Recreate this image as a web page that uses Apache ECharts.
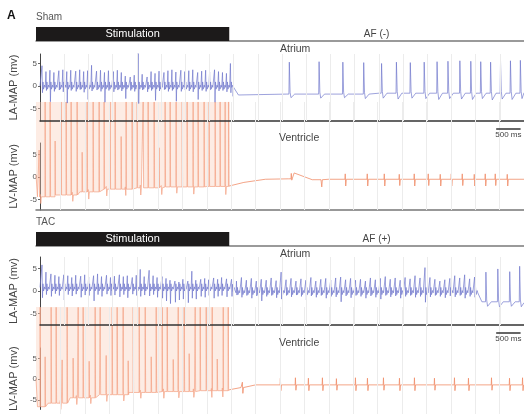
<!DOCTYPE html>
<html>
<head>
<meta charset="utf-8">
<style>
  html, body { margin: 0; padding: 0; background: #fff; }
  #main { width: 524px; height: 414px; }
</style>
<script src="https://cdn.jsdelivr.net/npm/echarts@6/dist/echarts.min.js"></script>
</head>
<body>
<div id="main"></div>
<script>
// time axis in ms, voltages in mV
var stimEnd = 3960;
var scaleBarMs = 500;
var yTicks = [-5, 0, 5];
var gridMs = [500,1000,1500,2000,2500,3000,3500,4000,4500,5000,5500,6000,6500,7000,7500,8000,8500,9000,9500];

// ---- Sham, atrium ----
var shamLaStimT = [41,123,205,287,389,471,553,635,738,820,902,984,1065,1168,1250,1332,1414,1516,1598,1680,1762,1865,1947,2029,2111,2213,2295,2377,2459,2561,2643,2725,2807,2910,2992,3074,3156,3258,3340,3422,3504,3606,3688,3770,3852,3934];
var shamLaStimHi = [4.5,3.2,3.5,3.0,3.4,3.6,3.2,3.5,3.3,3.6,3.2,3.4,4.6,3.3,3.5,3.0,3.4,3.2,3.5,3.0,2.2,2.0,2.4,7.3,2.6,2.0,3.2,2.8,3.3,3.0,3.4,3.6,3.1,3.5,3.2,3.4,3.6,3.0,3.3,3.5,3.1,3.6,3.2,3.0,2.8,5.0];
var shamLaStimLo = [-1.5,-1.0,-3.5,-1.2,-0.9,-1.3,-3.8,-1.0,-1.2,-0.8,-1.4,-3.0,-1.1,-0.9,-1.2,-3.6,-1.0,-1.3,-0.9,-1.1,-2.8,-1.0,-1.2,-3.9,-0.9,-1.3,-1.0,-3.2,-1.1,-0.8,-1.2,-1.0,-3.4,-1.2,-0.9,-1.1,-1.3,-3.0,-1.0,-1.2,-0.9,-3.6,-1.1,-1.0,-1.3,-1.5];
var shamLaAfT = [5143,5758,6249,6680,7049,7356,7643,7930,8196,8421,8667,8893,9098,9302,9507,9712,9917];
var shamLaAfHi = [5.3,5.4,5.3,5.2,5.0,5.3,5.2,5.3,5.4,5.5,5.6,5.5,5.4,5.3,5.5,5.6,5.7];
var shamLaAfLo = [-2.6,-2.7,-2.6,-2.8,-2.7,-2.9,-2.7,-2.8,-3.0,-2.8,-2.9,-3.0,-2.8,-3.1,-2.9,-3.0,-2.8];
var shamLaBase = [[0,0.0],[30,-0.3],[3960,-0.3],[3990,-2.3],[4100,-2.0],[5100,-1.8],[7000,-1.6],[10000,-1.5]];

// ---- Sham, ventricle ----
var shamLvStimT = [61,184,287,389,512,615,717,840,943,1045,1168,1291,1393,1516,1619,1742,1844,1967,2070,2193,2295,2418,2520,2643,2746,2869,2992,3094,3217,3319,3442,3545,3668,3770,3873,3945];
var shamLvStimH = [6.0,16.7,16.7,8.0,16.7,16.7,16.7,16.7,5.5,16.7,16.7,16.7,16.7,16.7,16.7,9.0,16.7,16.7,16.7,16.7,16.7,16.7,6.5,16.7,16.7,16.7,16.7,16.7,16.7,16.7,16.7,16.7,16.7,16.7,16.7,16.7];
var shamLvBeatT = [82,738,1065,1434,1824,2131,2561,2869,3217,3873,5225,5840,6331,6782,7131,7438,7745,8032,8278,8504,8729,8975,9200,9405,9651];
var shamLvBeatUp = [0.5,0.6,0.5,0.6,0.5,0.6,0.5,0.6,0.5,0.6,1.2,0.2,1.2,1.2,1.2,1.1,1.2,1.2,1.1,1.2,1.2,1.1,1.2,1.2,1.1];
var shamLvBeatDown = [1.5,1.4,1.6,1.5,1.4,1.6,1.5,1.4,1.6,1.8,0.3,1.6,1.5,1.5,1.5,1.4,1.5,1.4,1.5,1.5,1.4,1.5,1.5,1.4,1.5];
var shamLvBase = [[0,0.5],[30,-4.4],[400,-4.0],[900,-3.3],[1300,-2.7],[2000,-2.4],[2600,-2.2],[3500,-2.1],[3960,-2.0],[4260,-1.2],[4700,-0.5],[5180,-0.4],[5290,0.9],[5660,-0.6],[6000,-0.5],[10000,-0.5]];

// ---- TAC, atrium ----
var tacLaT = [41,123,226,308,390,492,574,656,738,841,923,1005,1107,1189,1271,1374,1456,1538,1640,1722,1804,1907,1989,2071,2153,2255,2337,2419,2522,2604,2686,2788,2870,2952,3055,3137,3219,3321,3403,3485,3588,3670,3752,3854,
  3957,4059,4162,4264,4367,4469,4572,4674,4777,4879,4982,5084,5187,5289,5392,5494,5597,5699,5802,5904,6007,6109,6212,6314,6417,6519,6622,6724,6827,6929,7032,7134,7237,7339,7442,7544,7647,7749,7852,7954,8057,8159,8262,8364,8467,8569,8672,8774,8877,8979];
var tacLaHi = [5.8,4.2,3.8,3.5,3.2,3.6,3.4,3.0,3.5,3.3,3.6,3.1,3.4,3.8,3.2,3.5,3.0,3.3,3.6,3.2,3.4,3.0,3.5,4.8,3.2,4.6,3.4,3.0,3.2,2.8,2.4,2.2,2.0,2.6,2.2,4.4,2.4,2.6,2.8,2.5,2.9,2.6,3.0,2.7,
  2.6,2.2,3.0,2.4,2.8,2.2,2.6,2.4,2.9,2.3,4.2,2.5,2.8,2.2,2.7,2.4,3.0,2.2,2.6,2.8,2.4,2.9,3.1,2.5,2.8,2.4,2.6,2.2,2.9,2.5,2.8,3.2,2.6,2.9,2.4,3.0,2.7,3.4,2.9,5.2,3.0,2.6,2.2,2.5,2.8,3.4,2.9,3.6,2.7,3.1];
var tacLaLo = [-1.5,-0.8,-1.2,-0.6,-1.0,-2.0,-0.8,-1.1,-0.7,-1.4,-0.9,-1.0,-2.2,-0.8,-1.2,-0.7,-1.0,-0.9,-1.3,-0.8,-1.5,-0.7,-1.0,-1.2,-0.9,-1.1,-0.8,-1.4,-1.6,-2.2,-2.8,-2.5,-2.0,-1.8,-2.6,-1.6,-1.8,-1.2,-1.4,-1.0,-1.6,-1.2,-1.0,-1.3,
  -1.2,-0.9,-1.4,-1.0,-1.6,-1.1,-2.2,-1.2,-1.0,-1.5,-1.8,-1.0,-1.3,-0.9,-1.2,-2.0,-1.1,-1.4,-1.0,-1.6,-1.2,-1.3,-2.4,-1.1,-1.5,-1.0,-1.2,-1.6,-1.1,-1.4,-1.8,-1.0,-1.3,-1.1,-1.6,-1.2,-1.0,-1.4,-1.2,-2.5,-1.3,-1.0,-1.2,-1.5,-1.1,-1.3,-1.0,-1.6,-1.2,-1.4];
var tacLaEndT = [9205,9451,9697,9902];
var tacLaEndHi = [4.2,4.9,4.3,5.5];
var tacLaEndLo = [-3.4,-3.5,-3.4,-3.5];
var tacLaBase = [[0,0.8],[30,0.4],[3950,0.3],[4050,-0.4],[9060,-0.5],[9130,-2.4],[10000,-2.6]];

// ---- TAC, ventricle ----
var tacLvStimT = [82,184,307,410,533,635,758,861,963,1086,1209,1312,1435,1558,1660,1783,1886,1988,2112,2235,2358,2460,2583,2686,2809,2911,3034,3136,3259,3362,3485,3608,3711,3834,3936];
var tacLvStimH = [16.6,5.5,16.6,16.6,4.8,16.6,5.2,16.6,16.6,4.5,16.6,16.6,5.8,16.6,16.6,16.6,4.6,16.6,16.6,16.6,5.5,16.6,16.6,16.6,4.9,16.6,16.6,6.2,16.6,16.6,16.6,16.6,5.0,16.6,16.6];
var tacLvBeatT = [492,820,1107,1435,1783,2132,2604,2911,3219,3588,3813,4223,5002,5310,5576,5863,6150,6540,6786,7114,7442,7749,8159,8569,8856,9328,9697,9964];
var tacLvBeatUp = [0.6,0.5,0.6,0.5,0.6,0.5,0.6,0.5,0.6,0.5,0.6,1.2,1.5,1.6,1.5,1.6,1.4,1.6,1.5,1.6,1.5,1.6,1.5,1.6,1.5,1.6,1.5,1.6];
var tacLvBeatDown = [1.4,1.5,1.3,1.5,1.4,1.3,1.5,1.4,1.3,1.5,1.4,1.3,1.3,1.2,1.3,1.3,1.2,1.3,1.3,1.2,1.3,1.3,1.2,1.3,1.3,1.2,1.3,1.3];
var tacLvBase = [[0,0.6],[30,-5.7],[250,-4.9],[700,-3.7],[1300,-3.0],[1900,-2.5],[2500,-2.3],[3300,-2.1],[3960,-1.9],[4200,-1.4],[4500,-0.8],[10000,-0.8]];

// spike shapes (offsets in ms)
function fastSpike(hi, lo) {
  return function (t, b, i) {
    return [[t - 8, b], [t, hi[i]], [t + 10, lo[i]], [t + 20, b + 1.2], [t + 32, b - 0.4], [t + 52, b + 0.5], [t + 66, b]];
  };
}
function slowSpike(hi, lo) {
  return function (t, b, i) { return [[t, b], [t + 8, hi[i]], [t + 24, b + 0.4], [t + 42, lo[i]], [t + 120, b]]; };
}
function stimSpike(h) {
  return function (t, b, i) { return [[t, b], [t + 3, h[i]], [t + 12, b]]; };
}
function beatSpike(up, down) {
  return function (t, b, i) { return [[t, b], [t + 6, b + up[i]], [t + 16, b - down[i]], [t + 28, b]]; };
}

// baseline level of the last read point at or before t
function baseAt(base, t) {
  var v = base[0][1];
  for (var i = 0; i < base.length; i++) if (base[i][0] <= t) v = base[i][1];
  return v;
}

function trace(base, groups) {
  var pts = base.map(function (p) { return [p[0], p[1]]; });
  groups.forEach(function (g) {
    g.t.forEach(function (t, i) {
      g.shape(t, baseAt(base, t), i).forEach(function (p) { pts.push(p); });
    });
  });
  pts.sort(function (a, b) { return a[0] - b[0]; });
  return pts;
}

var shamLa = trace(shamLaBase, [
  { t: shamLaStimT, shape: fastSpike(shamLaStimHi, shamLaStimLo) },
  { t: shamLaAfT, shape: slowSpike(shamLaAfHi, shamLaAfLo) }
]);
var shamLv = trace(shamLvBase, [
  { t: shamLvStimT, shape: stimSpike(shamLvStimH) },
  { t: shamLvBeatT, shape: beatSpike(shamLvBeatUp, shamLvBeatDown) }
]);
var tacLa = trace(tacLaBase, [
  { t: tacLaT, shape: fastSpike(tacLaHi, tacLaLo) },
  { t: tacLaEndT, shape: slowSpike(tacLaEndHi, tacLaEndLo) }
]);
var tacLv = trace(tacLvBase, [
  { t: tacLvStimT, shape: stimSpike(tacLvStimH) },
  { t: tacLvBeatT, shape: beatSpike(tacLvBeatUp, tacLvBeatDown) }
]);

var FONT = 'Liberation Sans, Arial, sans-serif';
var BLUE = '#6e75cb';
var ORANGE = '#f08d68';

function before(pts) { return pts.filter(function (p) { return p[0] <= stimEnd; }); }
function after(pts) { return pts.filter(function (p) { return p[0] >= stimEnd; }); }

var myChart = echarts.init(document.getElementById('main'));

// grids: header, LA, LV (trace, reaches up into LA), LV (axis only)
var grids = [
  { left: 36, right: 0, top: 27, height: 14 },
  { left: 36, right: 0, top: 54, height: 67 },
  { left: 36, right: 0, top: 102, height: 108 },
  { left: 36, right: 0, top: 143, height: 67 },
  { left: 36, right: 0, top: 232, height: 14 },
  { left: 36, right: 0, top: 257, height: 68 },
  { left: 36, right: 0, top: 307, height: 108 },
  { left: 36, right: 0, top: 348, height: 67 }
];

function timeAxis(idx, opts) {
  return Object.assign({
    gridIndex: idx, type: 'value', min: 0, max: 10000,
    axisLabel: { show: false },
    axisTick: { show: false },
    axisLine: { show: false },
    splitLine: { show: false }
  }, opts || {});
}

function headerX(idx) {
  return timeAxis(idx, {
    axisLine: { show: true, onZero: false, lineStyle: { color: '#7a7a7a', width: 1.5 } }
  });
}

function valueAxis(idx, min, max, name) {
  return {
    gridIndex: idx, type: 'value', min: min, max: max,
    name: name, nameLocation: 'middle', nameGap: 16, nameRotate: 90,
    nameTextStyle: { fontSize: 11, color: '#444', fontFamily: FONT },
    axisLine: { show: true, lineStyle: { color: '#444', width: 1 } },
    axisTick: { show: true, length: 2, customValues: yTicks, lineStyle: { color: '#666' } },
    axisLabel: { show: true, customValues: yTicks, fontSize: 8, color: '#555', margin: 3, fontFamily: FONT },
    splitLine: { show: false }
  };
}

function hiddenY(idx, min, max) {
  return { gridIndex: idx, type: 'value', min: min, max: max, show: false, splitLine: { show: false } };
}

var xAxes = [
  headerX(0),
  timeAxis(1, { z: 4, axisLine: { show: true, onZero: false, lineStyle: { color: '#333', width: 1.5 } } }),
  timeAxis(2, { axisLine: { show: true, onZero: false, lineStyle: { color: '#777', width: 1.5 } } }),
  { gridIndex: 3, type: 'value', min: 0, max: 10000, show: false },
  headerX(4),
  timeAxis(5, { z: 4, axisLine: { show: true, onZero: false, lineStyle: { color: '#333', width: 1.5 } } }),
  timeAxis(6),
  { gridIndex: 7, type: 'value', min: 0, max: 10000, show: false }
];

var yAxes = [
  hiddenY(0, 0, 1),
  valueAxis(1, -7.78, 7.11, 'LA-MAP (mv)'),
  hiddenY(2, -7.33, 16.67),
  valueAxis(3, -7.33, 7.56, 'LV-MAP (mv)'),
  hiddenY(4, 0, 1),
  valueAxis(5, -7.56, 7.56, 'LA-MAP (mv)'),
  hiddenY(6, -7.33, 16.67),
  valueAxis(7, -7.33, 7.56, 'LV-MAP (mv)')
];

// faint time grid drawn as vertical mark lines in a panel
function timeGrid(idx) {
  return {
    type: 'line', xAxisIndex: idx, yAxisIndex: idx, data: [[0, null]], symbol: 'none', z: 0, silent: true,
    markLine: {
      silent: true, symbol: ['none', 'none'], label: { show: false },
      lineStyle: { color: '#ececec', width: 1, type: 'solid' },
      data: gridMs.map(function (t) { return { xAxis: t }; })
    }
  };
}

function header(idx, afText) {
  return {
    type: 'line', xAxisIndex: idx, yAxisIndex: idx, data: [[0, null]],
    symbol: 'none', silent: true,
    markArea: {
      silent: true,
      data: [
        [{ xAxis: 0, itemStyle: { color: '#1c1a1a' },
           label: { show: true, position: 'inside', formatter: 'Stimulation', color: '#fff', fontSize: 11, fontFamily: FONT } },
         { xAxis: stimEnd }],
        [{ xAxis: stimEnd, itemStyle: { color: 'rgba(0,0,0,0)' },
           label: { show: true, position: 'inside', formatter: afText, color: '#444', fontSize: 10, fontFamily: FONT } },
         { xAxis: 10000 }]
      ]
    }
  };
}

function laSeries(idx, pts) {
  return {
    type: 'line', xAxisIndex: idx, yAxisIndex: idx, data: pts, z: 3,
    symbol: 'none', lineStyle: { color: BLUE, width: 0.8, opacity: 0.85 }
  };
}

function lvStim(idx, pts) {
  return {
    type: 'line', xAxisIndex: idx, yAxisIndex: idx, data: before(pts), z: 1,
    symbol: 'none', lineStyle: { color: '#f3a083', width: 0.7 },
    areaStyle: { origin: 'end', color: 'rgba(250,205,185,0.55)' }
  };
}

function lvPost(idx, pts, barLevel) {
  return {
    type: 'line', xAxisIndex: idx, yAxisIndex: idx, data: after(pts), z: 2,
    symbol: 'none', lineStyle: { color: ORANGE, width: 0.8 },
    markLine: {
      silent: true, symbol: ['none', 'none'],
      lineStyle: { color: '#333', width: 1.5, type: 'solid' },
      label: { show: true, position: 'insideMiddleBottom', formatter: scaleBarMs + ' ms', fontSize: 8, color: '#444', distance: 2, fontFamily: FONT },
      data: [[{ coord: [10000 - 70 - scaleBarMs, barLevel] }, { coord: [10000 - 70, barLevel] }]]
    }
  };
}

function txt(x, y, s, size, color, weight) {
  return {
    type: 'text', x: x, y: y, z: 10,
    style: { text: s, fontSize: size, fill: color, fontFamily: FONT, fontWeight: weight || 'normal', textVerticalAlign: 'middle' }
  };
}

var option = {
  animation: false,
  backgroundColor: '#fff',
  grid: grids,
  xAxis: xAxes,
  yAxis: yAxes,
  series: [
    timeGrid(1),
    timeGrid(2),
    timeGrid(5),
    timeGrid(6),
    header(0, 'AF (-)'),
    lvStim(2, shamLv),
    lvPost(2, shamLv, 10.7),
    laSeries(1, shamLa),
    header(4, 'AF (+)'),
    lvStim(6, tacLv),
    lvPost(6, tacLv, 10.9),
    laSeries(5, tacLa)
  ],
  graphic: [
    txt(7, 16, 'A', 12, '#111', 'bold'),
    txt(36, 17, 'Sham', 10, '#555'),
    txt(280, 49, 'Atrium', 10.5, '#444'),
    txt(279, 138, 'Ventricle', 10.5, '#444'),
    txt(36, 222, 'TAC', 10, '#555'),
    txt(280, 254, 'Atrium', 10.5, '#444'),
    txt(279, 343, 'Ventricle', 10.5, '#444')
  ]
};

myChart.setOption(option);
</script>
</body>
</html>
